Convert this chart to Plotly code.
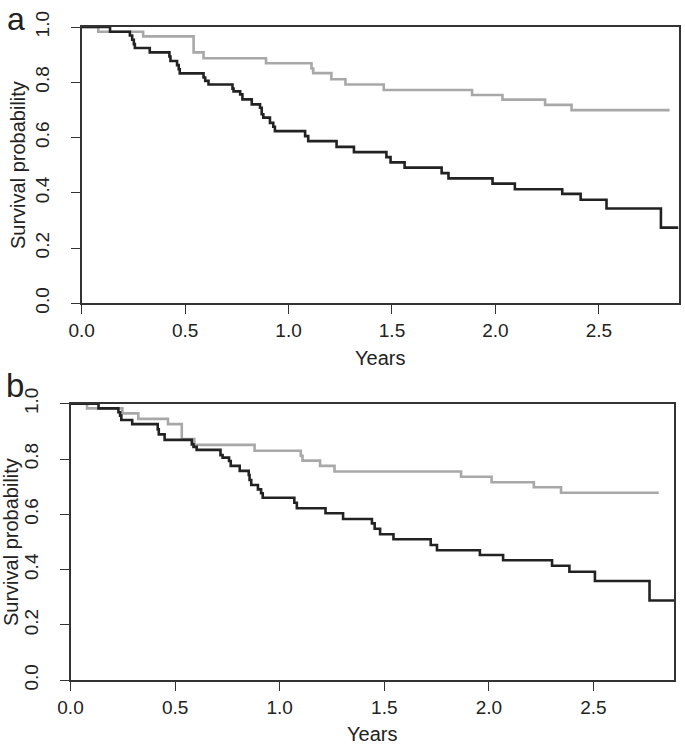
import plotly.graph_objects as go

# ---------------- data ----------------
x_ticks = [0.0, 0.5, 1.0, 1.5, 2.0, 2.5]
y_ticks = [0.0, 0.2, 0.4, 0.6, 0.8, 1.0]
x_max = 2.885

a_black_t = [0, 0.137, 0.233, 0.244, 0.252, 0.257, 0.329, 0.424, 0.429, 0.461, 0.469, 0.474,
             0.589, 0.597, 0.613, 0.729, 0.734, 0.766, 0.777, 0.822, 0.862, 0.870, 0.878,
             0.910, 0.926, 0.934, 1.080, 1.095, 1.232, 1.316, 1.473, 1.493, 1.561, 1.740,
             1.773, 1.986, 2.094, 2.323, 2.412, 2.537, 2.800, 2.885]
a_black_s = [1.0, 0.983, 0.969, 0.954, 0.938, 0.924, 0.908, 0.893, 0.877, 0.862, 0.847, 0.832,
             0.817, 0.805, 0.792, 0.777, 0.767, 0.756, 0.738, 0.720, 0.708, 0.684, 0.672,
             0.653, 0.639, 0.623, 0.605, 0.587, 0.566, 0.547, 0.529, 0.510, 0.491, 0.471,
             0.452, 0.433, 0.413, 0.396, 0.375, 0.343, 0.274, 0.274]

a_gray_t = [0, 0.080, 0.297, 0.541, 0.589, 0.891, 1.111, 1.119, 1.207, 1.275, 1.460,
            1.887, 2.034, 2.240, 2.368, 2.842]
a_gray_s = [1.0, 0.983, 0.966, 0.908, 0.887, 0.869, 0.850, 0.833, 0.811, 0.792, 0.772,
            0.754, 0.737, 0.718, 0.699, 0.699]

b_black_t = [0, 0.134, 0.229, 0.237, 0.243, 0.295, 0.417, 0.422, 0.450, 0.580, 0.588, 0.603,
             0.717, 0.727, 0.758, 0.766, 0.809, 0.852, 0.856, 0.864, 0.896, 0.911, 0.919,
             1.070, 1.082, 1.219, 1.303, 1.441, 1.454, 1.480, 1.544, 1.722, 1.752, 1.957,
             2.068, 2.302, 2.385, 2.507, 2.768, 2.885]
b_black_s = [1.0, 0.983, 0.969, 0.957, 0.941, 0.926, 0.907, 0.889, 0.869, 0.853, 0.844, 0.833,
             0.814, 0.805, 0.793, 0.775, 0.757, 0.742, 0.724, 0.706, 0.690, 0.676, 0.660,
             0.642, 0.622, 0.604, 0.583, 0.567, 0.548, 0.528, 0.510, 0.489, 0.470, 0.453,
             0.434, 0.414, 0.392, 0.359, 0.288, 0.288]

b_gray_t = [0, 0.079, 0.248, 0.324, 0.466, 0.532, 0.592, 0.880, 1.101, 1.109, 1.193, 1.262,
            1.867, 2.013, 2.215, 2.345, 2.812]
b_gray_s = [1.0, 0.983, 0.965, 0.945, 0.926, 0.872, 0.851, 0.830, 0.812, 0.794, 0.775, 0.755,
            0.736, 0.716, 0.698, 0.678, 0.678]

BLACK = "#222222"
GRAY = "#a8a8a8"
W, H = 685, 746


def px(x):
    return x / W


def py(y):
    return 1 - y / H


fig = go.Figure()


def add_curve(t, s, color, xa, ya):
    fig.add_trace(go.Scatter(x=t, y=s, mode="lines", line=dict(color=color, width=2.6, shape="hv"),
                             xaxis=xa, yaxis=ya, showlegend=False, hoverinfo="skip"))


add_curve(a_gray_t, a_gray_s, GRAY, "x", "y")
add_curve(a_black_t, a_black_s, BLACK, "x", "y")
add_curve(b_gray_t, b_gray_s, GRAY, "x2", "y2")
add_curve(b_black_t, b_black_s, BLACK, "x2", "y2")

FAM = "Liberation Sans, Arial, Helvetica, sans-serif"
font = dict(family=FAM, size=19, color="#222222")


def xaxis(domain, anchor):
    return dict(domain=domain, anchor=anchor, range=[0, x_max], tickvals=x_ticks,
                ticktext=[f"{v:.1f}" for v in x_ticks], ticks="outside", ticklen=9,
                tickwidth=1.3, tickcolor="#333", showline=True, linecolor="#333", linewidth=1.5,
                mirror=True, showgrid=False, zeroline=False, tickfont=font,
                automargin=False, ticklabelstandoff=0)


def yaxis(domain, anchor):
    return dict(domain=domain, anchor=anchor, range=[0, 1], tickvals=y_ticks,
                ticktext=[f"{v:.1f}" for v in y_ticks], ticks="outside", ticklen=9,
                tickwidth=1.3, tickcolor="#333", showline=True, linecolor="#333", linewidth=1.5,
                mirror=True, showgrid=False, zeroline=False, tickfont=font, tickangle=-90,
                automargin=False, ticklabelstandoff=14)


def ann(text, x, y, size=19, angle=0, yanchor="middle"):
    return dict(text=text, x=px(x), y=py(y), xref="paper", yref="paper", showarrow=False,
                textangle=angle, xanchor="center", yanchor=yanchor, borderpad=0,
                font=dict(family=FAM, size=size, color="#222"))


fig.update_layout(
    width=W, height=H, margin=dict(l=0, r=0, t=0, b=0),
    plot_bgcolor="white", paper_bgcolor="white", font=font,
    xaxis=xaxis([px(81.7), px(678.5)], "y"),
    yaxis=yaxis([py(303.3), py(27)], "x"),
    xaxis2=xaxis([px(70.5), px(674)], "y2"),
    yaxis2=yaxis([py(680.2), py(403.7)], "x2"),
    annotations=[
        ann("a", 16, 0.5, size=32, yanchor="top"),
        ann("b", 15, 385, size=33),
        ann("Years", 380, 358, size=20),
        ann("Years", 372, 734, size=20),
        ann("Survival probability", 18, 165, size=20, angle=-90),
        ann("Survival probability", 11, 542, size=20, angle=-90),
    ],
)

fig.write_html("out.html", config={"displayModeBar": False},
               post_script="document.body.style.margin='0';document.body.style.overflow='hidden';")
